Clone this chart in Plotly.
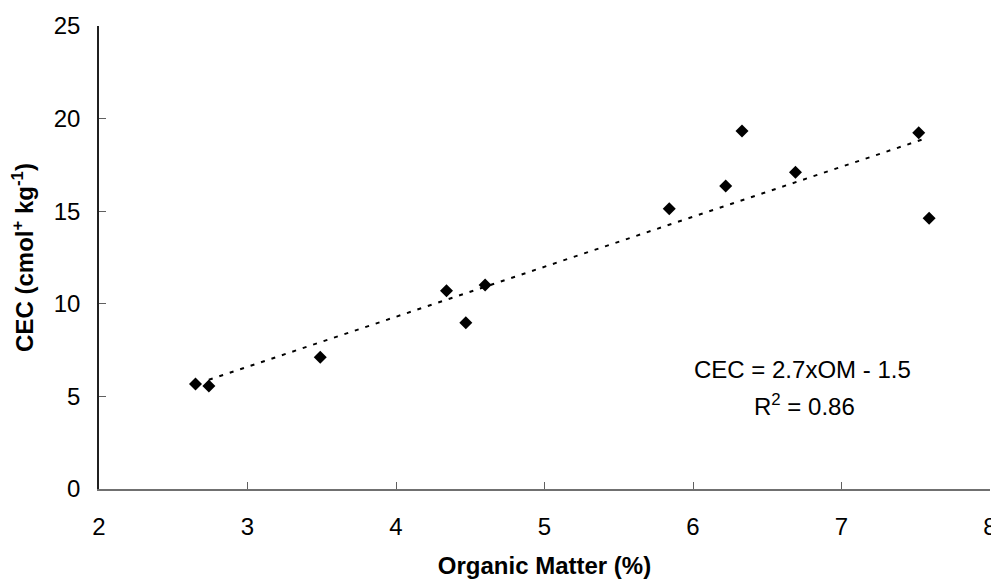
import plotly.graph_objects as go

# Data
organic_matter = [2.65, 2.74, 3.49, 4.34, 4.47, 4.60, 5.84, 6.22, 6.33, 6.69, 7.52, 7.59]
cec = [5.67, 5.56, 7.11, 10.71, 8.98, 11.02, 15.13, 16.36, 19.33, 17.10, 19.24, 14.62]

# Trendline parameters (from the chart's equation) and its drawn extent
slope = 2.7
intercept = -1.5
trend_x = [2.74, 7.55]
trend_y = [slope * v + intercept for v in trend_x]

x_ticks = [2, 3, 4, 5, 6, 7, 8]
y_ticks = [0, 5, 10, 15, 20, 25]

FONT = "Liberation Sans, Arial, sans-serif"
FS = 24

fig = go.Figure()
fig.add_trace(go.Scatter(
    x=trend_x, y=trend_y, mode="lines",
    line=dict(color="black", width=2, dash="4px,7px"),
    showlegend=False, hoverinfo="skip",
))
fig.add_trace(go.Scatter(
    x=organic_matter, y=cec, mode="markers",
    marker=dict(symbol="diamond", size=10, color="black"),
    showlegend=False,
))

fig.add_annotation(x=6.74, y=6.43, xref="x", yref="y", text="CEC = 2.7xOM - 1.5",
                   showarrow=False, xanchor="center", yanchor="middle",
                   font=dict(family=FONT, size=FS, color="black"))
fig.add_annotation(x=6.75, y=4.54, xref="x", yref="y", text="R<sup>2</sup> = 0.86",
                   showarrow=False, xanchor="center", yanchor="middle",
                   font=dict(family=FONT, size=FS, color="black"))

fig.update_layout(
    width=999, height=581,
    margin=dict(l=91, r=17, t=18, b=100),
    paper_bgcolor="white", plot_bgcolor="white",
    font=dict(family=FONT, size=FS, color="black"),
    xaxis=dict(
        range=[2, 8], tickvals=x_ticks, ticks="inside", ticklen=7, tickcolor="#606060",
        showline=True, linecolor="#707070", linewidth=1.5, showgrid=False, zeroline=False,
        ticklabelstandoff=15, automargin=False,
        title=dict(text="<b>Organic Matter (%)</b>", standoff=19,
                   font=dict(family=FONT, size=FS, color="black")),
    ),
    yaxis=dict(
        range=[0, 25], tickvals=y_ticks, ticks="inside", ticklen=7, tickcolor="#606060",
        showline=True, linecolor="#202020", linewidth=1.5, showgrid=False, zeroline=False,
        ticklabelstandoff=12, automargin=False,
        title=dict(text="<b>CEC (cmol<sup>+</sup> kg<sup>-1</sup>)</b>", standoff=14,
                   font=dict(family=FONT, size=FS, color="black")),
    ),
)

fig.write_html("out.html")
